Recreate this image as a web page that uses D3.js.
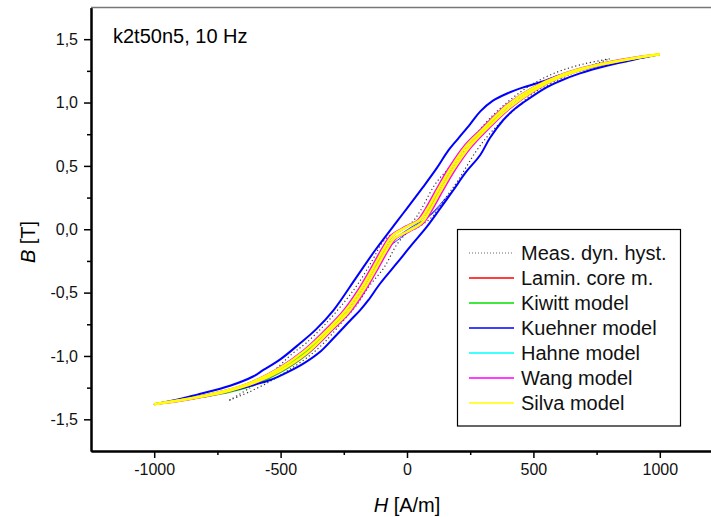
<!DOCTYPE html>
<html>
<head>
<meta charset="utf-8">
<script src="https://cdn.jsdelivr.net/npm/d3@7/dist/d3.min.js"></script>
<style>
  body { margin: 0; background: #fff; }
  svg { display: block; font-family: "Liberation Sans", Arial, sans-serif; }
</style>
</head>
<body>
<script>
// data: [H (A/m), B (T)]

var chartTitle = "k2t50n5, 10 Hz";
var xTicks = [-1000, -500, 0, 500, 1000];
var xMinorTicks = [-750, -250, 250, 750];
var yTicks = [-1.5, -1.0, -0.5, 0.0, 0.5, 1.0, 1.5];
var yMinorTicks = [-1.25, -0.75, -0.25, 0.25, 0.75, 1.25];

var seriesNames = ["Meas. dyn. hyst.", "Lamin. core m.", "Kiwitt model", "Kuehner model", "Hahne model", "Wang model", "Silva model"];
var seriesColors = ["#333", "#ff0000", "#00e000", "#0000ff", "#00ffff", "#ff00ff", "#ffff00"];

var measDesc = [[802,1.345],[700,1.305],[600,1.245],[500,1.15],[420,1.04],[340,0.90],[260,0.72],[200,0.56],[113,0.36],[54,0.15],[21,0.058],[-31,-0.008],[-90,-0.087],[-137,-0.245],[-190,-0.42],[-242,-0.56],[-321,-0.744],[-400,-0.90],[-453,-0.981],[-540,-1.14],[-620,-1.25],[-703,-1.35]];
var measAsc = [[-703,-1.35],[-620,-1.28],[-541,-1.20],[-475,-1.12],[-400,-1.02],[-330,-0.90],[-260,-0.74],[-200,-0.60],[-150,-0.45],[-90,-0.30],[-40,-0.12],[0,-0.03],[51,0.024],[100,0.10],[150,0.24],[200,0.38],[275,0.62],[330,0.76],[394,0.886],[499,1.071],[600,1.18],[700,1.27],[802,1.345]];

var laminLoop = [[1000,1.381],[800,1.316],[600,1.207],[500,1.113],[397,0.975],[297,0.78],[237,0.66],[177,0.49],[127,0.32],[82,0.16],[50,0.07],[2,0.02],[-56,-0.05],[-86,-0.14],[-131,-0.3],[-181,-0.47],[-241,-0.64],[-301,-0.77],[-403,-0.96],[-503,-1.1],[-603,-1.2],[-700,-1.266],[-800,-1.314],[-1000,-1.381],
  [-800,-1.317],[-700,-1.271],[-600,-1.208],[-500,-1.116],[-397,-0.975],[-297,-0.78],[-237,-0.66],[-177,-0.49],[-127,-0.32],[-82,-0.16],[-50,-0.07],[-2,-0.02],[56,0.05],[86,0.14],[131,0.3],[181,0.47],[241,0.64],[301,0.77],[403,0.96],[503,1.1],[603,1.2],[700,1.266],[800,1.313],[1000,1.381]];

var kiwittLoop = [[1000,1.381],[800,1.318],[600,1.21],[500,1.118],[396,0.978],[296,0.785],[236,0.665],[176,0.495],[126,0.325],[81,0.165],[49,0.072],[1,0.02],[-57,-0.05],[-87,-0.14],[-132,-0.3],[-182,-0.47],[-244,-0.65],[-306,-0.79],[-408,-0.98],[-508,-1.12],[-606,-1.22],[-700,-1.28],[-800,-1.32],[-1000,-1.381],
  [-800,-1.322],[-700,-1.285],[-600,-1.225],[-500,-1.13],[-396,-0.99],[-296,-0.795],[-236,-0.675],[-176,-0.5],[-126,-0.33],[-81,-0.165],[-49,-0.072],[-1,-0.02],[57,0.05],[87,0.14],[132,0.3],[182,0.47],[242,0.64],[302,0.77],[404,0.96],[504,1.1],[604,1.2],[700,1.266],[800,1.314],[1000,1.381]];

var kuehnerDesc = [[1000,1.38],[900,1.345],[790,1.305],[685,1.255],[605,1.215],[550,1.175],[460,1.12],[400,1.075],[340,1.015],[290,0.93],[250,0.83],[200,0.71],[163,0.62],[117,0.48],[64,0.334],[0,0.165],[-41,0.058],[-126,-0.166],[-199,-0.376],[-291,-0.64],[-360,-0.79],[-423,-0.90],[-500,-1.025],[-568,-1.11],[-607,-1.16],[-700,-1.235],[-830,-1.305],[-920,-1.35],[-1000,-1.38]];
var kuehnerAsc = [[-1000,-1.38],[-900,-1.35],[-800,-1.31],[-700,-1.275],[-600,-1.225],[-541,-1.19],[-480,-1.135],[-410,-1.06],[-340,-0.96],[-291,-0.86],[-220,-0.71],[-186,-0.64],[-153,-0.56],[-107,-0.43],[-41,-0.27],[20,-0.12],[78,0.018],[130,0.16],[183,0.308],[233,0.45],[289,0.584],[328,0.72],[380,0.86],[420,0.94],[460,1.0],[552,1.12],[605,1.17],[684,1.23],[790,1.29],[900,1.34],[1000,1.38]];
var kuehnerInnerA = [[-60,-0.12],[0,-0.03],[60,0.06],[110,0.15],[150,0.24],[183,0.308]];
var kuehnerInnerB = [[-40,-0.06],[20,0.02],[80,0.09],[130,0.18],[183,0.308]];

var hahneLoop = [[1000,1.381],[800,1.318],[600,1.21],[500,1.118],[393,0.975],[292,0.78],[232,0.66],[172,0.49],[122,0.32],[77,0.16],[45,0.07],[-3,0.02],[-61,-0.05],[-91,-0.14],[-136,-0.3],[-186,-0.47],[-246,-0.64],[-306,-0.77],[-407,-0.96],[-507,-1.1],[-606,-1.2],[-700,-1.268],[-800,-1.313],[-1000,-1.381],
  [-800,-1.318],[-700,-1.274],[-600,-1.21],[-500,-1.118],[-393,-0.975],[-292,-0.78],[-232,-0.66],[-172,-0.49],[-122,-0.32],[-77,-0.16],[-45,-0.07],[3,-0.02],[61,0.05],[91,0.14],[136,0.3],[186,0.47],[246,0.64],[306,0.77],[407,0.96],[507,1.1],[606,1.2],[700,1.268],[800,1.313],[1000,1.381]];

var wangDesc = [[1000,1.381],[900,1.355],[800,1.32],[700,1.276],[600,1.212],[500,1.12],[390,0.975],[288,0.78],[228,0.66],[168,0.49],[118,0.32],[73,0.16],[42,0.07],[-6,0.02],[-64,-0.05],[-95,-0.14],[-140,-0.3],[-190,-0.47],[-250,-0.64],[-310,-0.77],[-410,-0.96],[-510,-1.1],[-608,-1.2],[-702,-1.265],[-800,-1.31],[-900,-1.35],[-1000,-1.381]];
var wangAsc = [[-1000,-1.381],[-900,-1.355],[-800,-1.32],[-700,-1.276],[-600,-1.212],[-500,-1.12],[-390,-0.975],[-288,-0.78],[-228,-0.66],[-168,-0.49],[-118,-0.32],[-73,-0.16],[-42,-0.07],[6,-0.02],[64,0.05],[95,0.14],[140,0.3],[190,0.47],[250,0.64],[310,0.77],[410,0.96],[510,1.1],[608,1.2],[702,1.265],[800,1.31],[900,1.35],[1000,1.381]];

var silvaDesc = [[1000,1.381],[900,1.352],[800,1.317],[700,1.272],[600,1.208],[500,1.115],[395,0.975],[295,0.78],[235,0.66],[175,0.49],[125,0.32],[80,0.16],[48,0.07],[0,0.02],[-58,-0.05],[-88,-0.14],[-133,-0.3],[-183,-0.47],[-243,-0.64],[-303,-0.77],[-405,-0.96],[-505,-1.1],[-605,-1.2],[-700,-1.265],[-800,-1.312],[-900,-1.35],[-1000,-1.381]];
var silvaAsc = [[-1000,-1.381],[-900,-1.352],[-800,-1.317],[-700,-1.272],[-600,-1.208],[-500,-1.115],[-395,-0.975],[-295,-0.78],[-235,-0.66],[-175,-0.49],[-125,-0.32],[-80,-0.16],[-48,-0.07],[0,-0.02],[58,0.05],[88,0.14],[133,0.3],[183,0.47],[243,0.64],[303,0.77],[405,0.96],[505,1.1],[605,1.2],[700,1.265],[800,1.312],[900,1.35],[1000,1.381]];

//-----------------------------------------------------------------------------------
// setup
//-----------------------------------------------------------------------------------
var chartW = 711, chartH = 517;
var plotLeft = 91, plotTop = 7.5, plotBottom = 451;

var svg = d3.select("body").append("svg")
    .attr("width", chartW)
    .attr("height", chartH);

svg.append("rect").attr("width", chartW).attr("height", chartH).attr("fill", "#fff");

var x = d3.scaleLinear().domain([-1250, 1250]).range([plotLeft, 723]);
var y = d3.scaleLinear().domain([-1.75, 1.75]).range([plotBottom, plotTop]);

var loc = d3.formatLocale({decimal: ",", thousands: ".", grouping: [3], currency: ["", ""], minus: "-"});
var fmtY = loc.format(".1f");
var fmtX = loc.format("d");

var line = d3.line()
    .x(function(d){ return x(d[0]); })
    .y(function(d){ return y(d[1]); })
    .curve(d3.curveCatmullRom.alpha(0.5));

var plot = svg.append("g");

const drawPath = function(data, color, w, dash){
  var p = plot.append("path")
      .datum(data)
      .attr("d", line)
      .attr("fill", "none")
      .attr("stroke", color)
      .attr("stroke-width", w);
  if (dash) p.attr("stroke-dasharray", dash);
  return p;
}

// measured, dotted
drawPath(measDesc, seriesColors[0], 1.2, "1.2,2.6");
drawPath(measAsc, seriesColors[0], 1.2, "1.2,2.6");
// models in legend order, Silva on top
drawPath(laminLoop, seriesColors[1], 1.5);
drawPath(kiwittLoop, seriesColors[2], 1.5);
drawPath(kuehnerDesc, seriesColors[3], 2);
drawPath(kuehnerAsc, seriesColors[3], 2);
drawPath(kuehnerInnerA, seriesColors[3], 0.8);
drawPath(kuehnerInnerB, seriesColors[3], 0.8);
drawPath(hahneLoop, seriesColors[4], 1.5);
drawPath(wangDesc, seriesColors[5], 2);
drawPath(wangAsc, seriesColors[5], 2);
drawPath(silvaDesc, seriesColors[6], 2.5);
drawPath(silvaAsc, seriesColors[6], 2.5);

//-----------------------------------------------------------------------------------
// axes
//-----------------------------------------------------------------------------------
svg.append("g")
    .attr("transform", "translate(0," + plotBottom + ")")
    .call(d3.axisBottom(x).tickValues(xTicks).tickFormat(fmtX).tickSize(7).tickSizeOuter(0).tickPadding(6));
svg.append("g")
    .attr("transform", "translate(0," + plotBottom + ")")
    .call(d3.axisBottom(x).tickValues(xMinorTicks).tickFormat("").tickSize(4).tickSizeOuter(0));

svg.append("g")
    .attr("transform", "translate(" + plotLeft + ",0)")
    .call(d3.axisLeft(y).tickValues(yTicks).tickFormat(fmtY).tickSize(7).tickSizeOuter(0).tickPadding(6));
svg.append("g")
    .attr("transform", "translate(" + plotLeft + ",0)")
    .call(d3.axisLeft(y).tickValues(yMinorTicks).tickFormat("").tickSize(4).tickSizeOuter(0));

svg.selectAll(".domain").attr("stroke", "#000").attr("stroke-width", 2);
svg.selectAll(".tick line").attr("stroke", "#000").attr("stroke-width", 1.5);
svg.selectAll(".tick text").attr("font-size", 16).attr("fill", "#111")
    .attr("font-family", "'Liberation Sans', Arial, sans-serif");

// top frame line
svg.append("line")
    .attr("x1", plotLeft).attr("x2", chartW)
    .attr("y1", plotTop).attr("y2", plotTop)
    .attr("stroke", "#777").attr("stroke-width", 1.5);

// axis titles
var xt = svg.append("text")
    .attr("x", x(0)).attr("y", 512)
    .attr("text-anchor", "middle")
    .attr("font-size", 20);
xt.append("tspan").attr("font-style", "italic").text("H");
xt.append("tspan").text(" [A/m]");

var yt = svg.append("text")
    .attr("transform", "translate(35,242) rotate(-90)")
    .attr("text-anchor", "middle")
    .attr("font-size", 20);
yt.append("tspan").attr("font-style", "italic").text("B");
yt.append("tspan").text(" [T]");

svg.append("text")
    .attr("x", 113).attr("y", 43)
    .attr("font-size", 20)
    .text(chartTitle);

//-----------------------------------------------------------------------------------
// legend
//-----------------------------------------------------------------------------------
var legend = svg.append("g");
legend.append("rect")
    .attr("x", 457.5).attr("y", 229.5)
    .attr("width", 223).attr("height", 196.5)
    .attr("fill", "#fff")
    .attr("stroke", "#000")
    .attr("stroke-width", 1.2);

var rows = legend.selectAll("g.row")
    .data(seriesNames)
    .enter().append("g")
    .attr("class", "row")
    .attr("transform", function(d, i){ return "translate(0," + (253 + i * 25) + ")"; });

rows.append("line")
    .attr("x1", 469).attr("x2", 514)
    .attr("y1", 0).attr("y2", 0)
    .attr("stroke", function(d, i){ return i === 0 ? "#666" : seriesColors[i]; })
    .attr("stroke-width", function(d, i){ return i === 0 ? 1 : 1.8; })
    .attr("stroke-dasharray", function(d, i){ return i === 0 ? "1,2" : null; })
    .attr("opacity", function(d, i){ return i === 0 ? 1 : 0.75; });

rows.append("text")
    .attr("x", 521).attr("y", 7)
    .attr("font-size", 20)
    .attr("fill", "#111")
    .text(function(d){ return d; });
</script>
</body>
</html>
